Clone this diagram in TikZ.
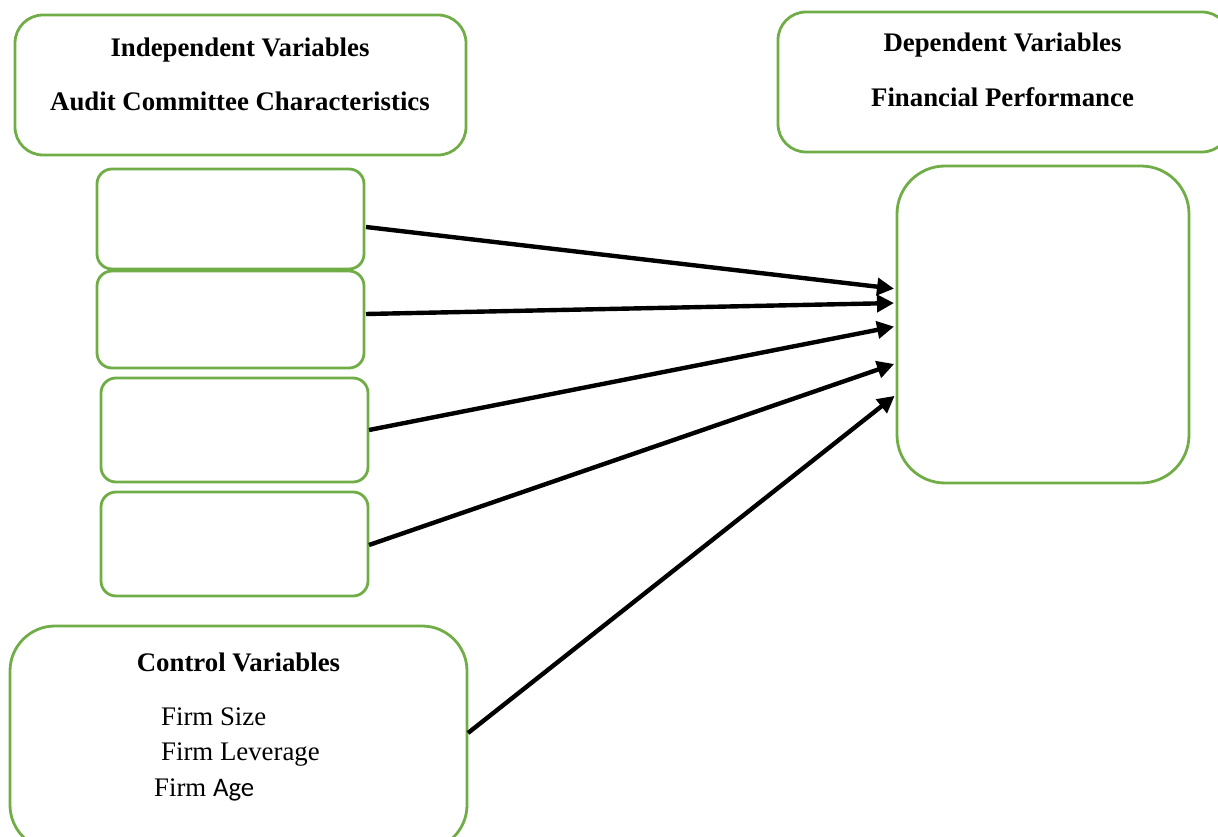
\documentclass[tikz,border=0pt]{standalone}
\usepackage{fontspec}
\setmainfont{Liberation Serif}
\newfontfamily\calib{Carlito}
\usetikzlibrary{arrows.meta}
\definecolor{boxgreen}{HTML}{70AD47}
\tikzset{
  gbox/.style={draw=boxgreen, line width=2.8pt, fill=none, inner sep=0pt, outer sep=0pt},
  lbl/.style={anchor=base, inner sep=0pt, font=\fontsize{26.8}{30}\selectfont},
  blbl/.style={lbl, font=\fontsize{26.8}{30}\selectfont\bfseries},
  conn/.style={line width=4.4pt, -{Triangle[length=17pt,width=17pt]}, shorten >=3pt}
}
\begin{document}
\begin{tikzpicture}[x=1pt,y=-1pt]
\useasboundingbox (0,0) rectangle (1218,837);
% boxes
\node[gbox, rounded corners=28pt, minimum width=451pt, minimum height=140pt] (indep) at (240.5,85) {};
\node[gbox, rounded corners=28pt, minimum width=452pt, minimum height=140pt] (dep) at (1004,82) {};
\node[gbox, rounded corners=48pt, minimum width=292pt, minimum height=317pt] (tgt) at (1043,324.5) {};
\node[gbox, rounded corners=15pt, minimum width=267pt, minimum height=100pt] (b1) at (230.5,219) {};
\node[gbox, rounded corners=15pt, minimum width=267pt, minimum height=97pt] (b2) at (230.5,319.5) {};
\node[gbox, rounded corners=15pt, minimum width=267pt, minimum height=104pt] (b3) at (234.5,430) {};
\node[gbox, rounded corners=15pt, minimum width=267pt, minimum height=104pt] (b4) at (234.5,544) {};
\node[gbox, rounded corners=45pt, minimum width=457pt, minimum height=224pt] (ctrl) at (238.5,738) {};
% texts
\node[blbl] (t1) at (240,57) {Independent Variables};
\node[blbl] (t2) at (240,111) {Audit Committee Characteristics};
\node[blbl] (t3) at (1002.5,52) {Dependent Variables};
\node[blbl] (t4) at (1002.5,107) {Financial Performance};
\node[blbl] (t5) at (238.5,671) {Control Variables};
\node[lbl, anchor=base west] (t6) at (161,725) {Firm Size};
\node[lbl, anchor=base west] (t7) at (161,760) {Firm Leverage};
\node[lbl, anchor=base west] (t8) at (154,796) {Firm {\calib Age}};
% connectors
\draw[conn] ([yshift=-8pt,xshift=2pt]b1.east) -- ([yshift=35.5pt]tgt.west);
\draw[conn] ([yshift=5.5pt,xshift=2pt]b2.east) -- ([yshift=21.5pt]tgt.west);
\draw[conn] ([xshift=1pt]b3.east) -- ([yshift=-1.5pt]tgt.west);
\draw[conn] ([yshift=-1pt,xshift=1pt]b4.east) -- ([yshift=-38.5pt]tgt.west);
\draw[conn] ([yshift=5pt,xshift=1pt]ctrl.east) -- ([yshift=-69.5pt]tgt.west);
\end{tikzpicture}
\end{document}
